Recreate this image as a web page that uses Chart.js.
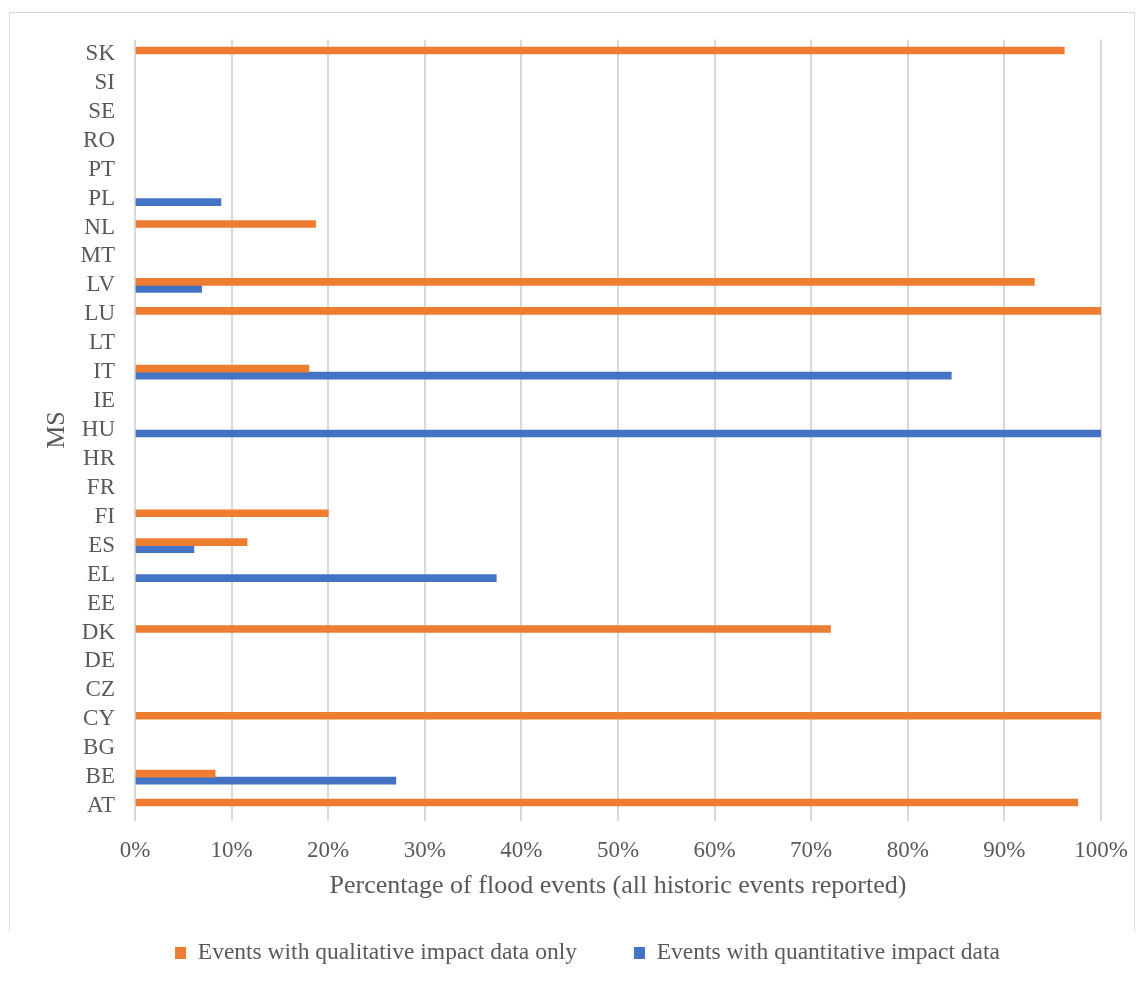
<!DOCTYPE html>
<html>
<head>
<meta charset="utf-8">
<script src="https://cdn.jsdelivr.net/npm/chart.js@4/dist/chart.umd.min.js"></script>
<style>
  html, body { margin: 0; padding: 0; background: #fff; }
  #wrap { position: relative; width: 1146px; height: 981px; }
  #frame {
    position: absolute; left: 9px; top: 12px; width: 1124px; height: 918px;
    border: 1.5px solid #d9d9d9; border-bottom: none; pointer-events: none;
  }
  canvas { position: absolute; left: 0; top: 0; }
</style>
</head>
<body>
<div id="wrap">
  <div id="frame"></div>
  <canvas id="floodChart" width="1146" height="981"></canvas>
</div>
<script>
// Państwa członkowskie, od góry do dołu (jak na wykresie)
const memberStates = ['SK', 'SI', 'SE', 'RO', 'PT', 'PL', 'NL', 'MT', 'LV', 'LU', 'LT', 'IT', 'IE', 'HU',
  'HR', 'FR', 'FI', 'ES', 'EL', 'EE', 'DK', 'DE', 'CZ', 'CY', 'BG', 'BE', 'AT'];

// Odsetek zdarzeń tylko z danymi jakościowymi (%), null = brak słupka
const qualitativeOnly = [96.2, null, null, null, null, null, 18.7, null, 93.1, 100, null, 18.0, null, null,
  null, null, 20.0, 11.6, null, null, 72.0, null, null, 100, null, 8.3, 97.6];

// Odsetek zdarzeń z danymi ilościowymi (%)
const quantitative = [null, null, null, null, null, 8.9, null, null, 6.9, null, null, 84.5, null, 100,
  null, null, null, 6.1, 37.4, null, null, null, null, null, null, 27.0, null];

const xTicks = [0, 10, 20, 30, 40, 50, 60, 70, 80, 90, 100];

const seriesNames = ['Events with qualitative impact data only', 'Events with quantitative impact data'];
const xTitle = 'Percentage of flood events (all historic events reported)';
const yTitle = 'MS';

const serif = '"Liberation Serif", "Times New Roman", serif';
const textGrey = '#595959';
const gridGrey = '#d9d9d9';

const chartCanvas = document.getElementById('floodChart');

// Przesunięcie legendy w prawo (w oryginale nie jest wyśrodkowana względem płótna)
const legendShift = {
    id: 'legendShift',
    afterLayout(chart) {
        if (chart.legend) {
            chart.legend.left += 74;
        }
    }
};

new Chart(chartCanvas, {
    type: 'bar',
    data: {
        labels: memberStates,
        datasets: [{
            label: seriesNames[0],
            data: qualitativeOnly,
            backgroundColor: '#ED7D31',
            barThickness: 7
        }, {
            label: seriesNames[1],
            data: quantitative,
            backgroundColor: '#4472C4',
            barThickness: 7
        }]
    },
    options: {
        indexAxis: 'y',
        responsive: false,
        animation: false,
        layout: {
            padding: { left: 0, top: 39.5, right: 45, bottom: 6.25 }
        },
        scales: {
            x: {
                min: 0,
                max: 100,
                afterBuildTicks: (scale) => {
                    scale.ticks = xTicks.map(v => ({ value: v }));
                },
                afterFit: (scale) => { scale.height = 110.75; },
                ticks: {
                    callback: (v) => v + '%',
                    color: textGrey,
                    font: { family: serif, size: 23 },
                    padding: 16.5,
                    maxRotation: 0
                },
                grid: {
                    color: gridGrey,
                    lineWidth: 2,
                    drawTicks: false
                },
                border: { display: false },
                title: {
                    display: true,
                    text: xTitle,
                    color: textGrey,
                    font: { family: serif, size: 26 },
                    padding: { top: 0, bottom: 29.6 }
                }
            },
            y: {
                afterFit: (scale) => { scale.width = 135; },
                ticks: {
                    color: textGrey,
                    font: { family: serif, size: 23 },
                    padding: 20,
                    autoSkip: false
                },
                grid: { display: false, drawTicks: false },
                border: { display: false },
                title: {
                    display: true,
                    text: yTitle,
                    color: textGrey,
                    font: { family: serif, size: 26 },
                    padding: { top: 41.4, bottom: 0 }
                }
            }
        },
        plugins: {
            legend: {
                position: 'bottom',
                labels: {
                    color: textGrey,
                    font: { family: serif, size: 23.5 },
                    boxWidth: 11,
                    boxHeight: 12,
                    padding: 10,
                    // większy odstęp między pozycjami legendy, jak w oryginale
                    generateLabels: (chart) => {
                        const items = Chart.defaults.plugins.legend.labels.generateLabels(chart);
                        items.forEach(item => { item.lineWidth = 0; });
                        items[0].text = items[0].text + '        ';
                        return items;
                    }
                }
            },
            tooltip: { enabled: false }
        }
    },
    plugins: [legendShift]
});
</script>
</body>
</html>
